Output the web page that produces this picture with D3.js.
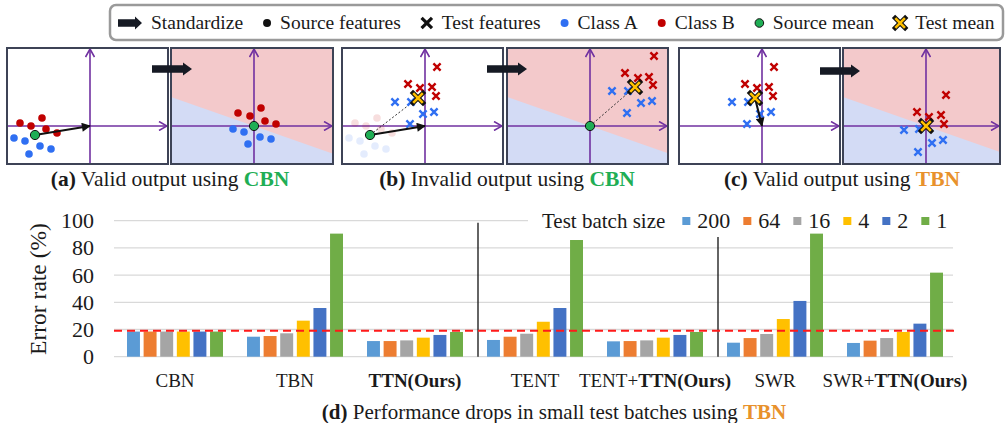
<!DOCTYPE html>
<html>
<head>
<meta charset="utf-8">
<script src="https://cdn.jsdelivr.net/npm/d3@7"></script>
<style>
body { margin: 0; background: #fff; }
svg text { fill: #1a1a1a; }
</style>
</head>
<body>
<div id="chart"></div>
<script>
// ---------- data: feature space panels (axis crossing = 0,0) ----------
const topLegend = ['Standardize', 'Source features', 'Test features', 'Class A', 'Class B', 'Source mean', 'Test mean']
const sourceA = [[-7.6, -1.2], [-6.5, -1.5], [-5.0, -2.0], [-3.9, -2.3], [-6.1, -2.8]]
const sourceB = [[-7.0, 0.3], [-5.9, 0.0], [-4.8, 0.8], [-4.4, -0.3], [-3.3, -0.7]]
const sourceMean = [-5.5, -0.9]
const normSourceA = [[-2.1, -0.3], [-1.0, -0.6], [0.6, -1.1], [1.7, -1.3], [-0.6, -1.8]]
const normSourceB = [[-1.6, 1.3], [-0.4, 1.0], [0.7, 1.8], [1.1, 0.5], [2.2, 0.2]]
const testA = [[-3.0, 2.4], [-1.4, 2.4], [-0.2, 1.2], [0.9, 1.4], [-1.5, 0.2]]
const testB = [[1.2, 5.9], [-1.7, 4.2], [-0.5, 3.8], [0.7, 3.9], [1.1, 3.0]]
const testMean = [-0.7, 2.8]
const cbnTestA = [[2.2, 3.5], [3.8, 3.5], [5.1, 2.3], [6.2, 2.5], [3.7, 1.3]]
const cbnTestB = [[6.4, 7.0], [3.5, 5.3], [4.8, 4.8], [5.9, 4.9], [6.3, 4.1]]
const cbnTestMean = [4.5, 3.9]
const tbnTestA = [[-2.2, -0.4], [-0.7, -0.3], [0.6, -1.7], [1.7, -1.4], [-0.8, -2.6]]
const tbnTestB = [[2.0, 3.1], [-0.9, 1.4], [0.3, 0.9], [1.5, 1.1], [1.8, 0.2]]
const boundarySlope = -0.35
const origin = [0, 0]

// ---------- data: error rates ----------
const methods = ['CBN', 'TBN', 'TTN(Ours)', 'TENT', 'TENT+TTN(Ours)', 'SWR', 'SWR+TTN(Ours)']
const batchSizes = ['200', '64', '16', '4', '2', '1']
const errCBN = [18.5, 18.5, 18.5, 18.5, 18.5, 18.5]
const errTBN = [14.7, 15.2, 17.2, 26.5, 35.8, 90.5]
const errTTN = [11.5, 11.5, 12.0, 14.0, 16.0, 18.2]
const errTENT = [12.3, 14.7, 16.9, 25.7, 35.8, 85.8]
const errTENTTTN = [11.3, 11.5, 12.0, 14.0, 16.0, 18.2]
const errSWR = [10.3, 13.7, 16.7, 27.7, 41.0, 90.5]
const errSWRTTN = [10.1, 11.8, 13.7, 18.2, 24.3, 61.8]
const errors = [errCBN, errTBN, errTTN, errTENT, errTENTTTN, errSWR, errSWRTTN]
const yTicks = [0, 20, 40, 60, 80, 100]
const referenceError = 19

// ---------- styles ----------
const serif = '"Liberation Serif", "Times New Roman", Times, serif'
const purple = '#7030a0', red = '#c00000', blue = '#2f6ff2', green = '#1fae55', yellow = '#ffc000'
const pink = '#f3c9cb', lightBlue = '#d3dbf5', boxStroke = '#3d4356'
const barColors = ['#5b9bd5', '#ed7d31', '#a5a5a5', '#ffc000', '#4472c4', '#70ad47']
const cbnGreen = '#1fae55', tbnOrange = '#e8912c'

const svg = d3.select('#chart').append('svg').attr('width', 1005).attr('height', 423)
    .attr('font-family', serif).style('font-family', serif)
const defs = svg.append('defs')
defs.append('marker').attr('id', 'axisHead').attr('viewBox', '0 0 10 10')
    .attr('refX', 9).attr('refY', 5).attr('markerWidth', 10).attr('markerHeight', 10)
    .attr('markerUnits', 'userSpaceOnUse').attr('orient', 'auto')
    .append('path').attr('d', 'M1,0.5L9,5L1,9.5').attr('fill', 'none')
    .attr('stroke', purple).attr('stroke-width', 1.6)
defs.append('marker').attr('id', 'blackHead').attr('viewBox', '0 0 10 10')
    .attr('refX', 9).attr('refY', 5).attr('markerWidth', 10).attr('markerHeight', 9)
    .attr('markerUnits', 'userSpaceOnUse').attr('orient', 'auto')
    .append('path').attr('d', 'M0,0L10,5L0,10Z').attr('fill', '#111')

// block arrow shape
function blockArrow(len, shaft, head, headLen){
    return 'M0,' + (-shaft/2) + 'H' + (len - headLen) + 'V' + (-head/2) + 'L' + len + ',0L' +
        (len - headLen) + ',' + (head/2) + 'V' + (shaft/2) + 'H0Z'
}
const crossPath = s => 'M' + (-s) + ',' + (-s) + 'L' + s + ',' + s + 'M' + (-s) + ',' + s + 'L' + s + ',' + (-s)

function drawDots(g, pts, color, x, y, opacity){
    g.selectAll(null).data(pts).join('circle')
        .attr('cx', d => x(d[0])).attr('cy', d => y(d[1])).attr('r', 3.8)
        .attr('fill', color).attr('opacity', opacity)
}
function drawCrosses(g, pts, color, x, y){
    g.selectAll(null).data(pts).join('path')
        .attr('transform', d => 'translate(' + x(d[0]) + ',' + y(d[1]) + ')')
        .attr('d', crossPath(3.6)).attr('stroke', color).attr('stroke-width', 2.4).attr('fill', 'none')
}
function drawSourceMean(g, p, x, y){
    g.append('circle').attr('cx', x(p[0])).attr('cy', y(p[1])).attr('r', 4.6)
        .attr('fill', green).attr('stroke', '#111').attr('stroke-width', 1)
}
function drawTestMean(g, p, x, y){
    const t = 'translate(' + x(p[0]) + ',' + y(p[1]) + ')'
    g.append('path').attr('transform', t).attr('d', crossPath(5)).attr('stroke', '#111')
        .attr('stroke-width', 4.6).attr('stroke-linecap', 'square').attr('fill', 'none')
    g.append('path').attr('transform', t).attr('d', crossPath(4.8)).attr('stroke', yellow)
        .attr('stroke-width', 2.6).attr('fill', 'none')
}
function drawLine(g, a, b, x, y, dashed){
    const l = g.append('line').attr('x1', x(a[0])).attr('y1', y(a[1])).attr('x2', x(b[0])).attr('y2', y(b[1]))
    if(dashed){
        l.attr('stroke', '#333').attr('stroke-width', 1).attr('stroke-dasharray', '2,2')
    } else {
        l.attr('stroke', '#111').attr('stroke-width', 2).attr('marker-end', 'url(#blackHead)')
    }
}

// ---------- top panels ----------
const panels = [
    {left: 7, width: 161, dotsA: sourceA, dotsB: sourceB, srcMean: sourceMean, arrow: [sourceMean, origin]},
    {left: 171, width: 162, regions: true, dotsA: normSourceA, dotsB: normSourceB, srcMean: origin},
    {left: 342, width: 161, dotsA: sourceA, dotsB: sourceB, faded: true, crossA: testA, crossB: testB,
        dash: [sourceMean, testMean], arrow: [sourceMean, origin], srcMean: sourceMean, tstMean: testMean},
    {left: 507, width: 161, regions: true, crossA: cbnTestA, crossB: cbnTestB,
        dash: [origin, cbnTestMean], srcMean: origin, tstMean: cbnTestMean},
    {left: 679, width: 161, crossA: testA, crossB: testB, arrow: [testMean, origin], tstMean: testMean},
    {left: 843, width: 157, regions: true, crossA: tbnTestA, crossB: tbnTestB, tstMean: origin}
]

panels.forEach(function(p){
    const g = svg.append('g')
    const x = d3.scaleLinear().domain([-8.3, (p.width - 83) / 10]).range([p.left, p.left + p.width])
    const y = d3.scaleLinear().domain([-3.8, 7.8]).range([164, 48])
    const [x0, x1] = x.domain(), [y0, y1] = y.domain()

    g.append('rect').attr('x', p.left).attr('y', 48).attr('width', p.width).attr('height', 116)
        .attr('fill', p.regions ? pink : '#fff')
    if(p.regions){
        const poly = [[x0, boundarySlope * x0], [x1, boundarySlope * x1], [x1, y0], [x0, y0]]
        g.append('path').attr('d', d3.line().x(d => x(d[0])).y(d => y(d[1]))(poly) + 'Z').attr('fill', lightBlue)
    }
    // axes
    g.append('line').attr('x1', x(x0)).attr('x2', x(x1) - 1).attr('y1', y(0)).attr('y2', y(0))
        .attr('stroke', purple).attr('stroke-width', 1.6).attr('marker-end', 'url(#axisHead)')
    g.append('line').attr('x1', x(0)).attr('x2', x(0)).attr('y1', y(y0)).attr('y2', y(y1) + 1)
        .attr('stroke', purple).attr('stroke-width', 1.6).attr('marker-end', 'url(#axisHead)')

    if(p.dotsA){
        drawDots(g, p.dotsA, blue, x, y, p.faded ? 0.13 : 1)
        drawDots(g, p.dotsB, red, x, y, p.faded ? 0.13 : 1)
    }
    if(p.dash) drawLine(g, p.dash[0], p.dash[1], x, y, true)
    if(p.crossA){
        drawCrosses(g, p.crossA, blue, x, y)
        drawCrosses(g, p.crossB, red, x, y)
    }
    if(p.arrow) drawLine(g, p.arrow[0], p.arrow[1], x, y, false)
    if(p.srcMean) drawSourceMean(g, p.srcMean, x, y)
    if(p.tstMean) drawTestMean(g, p.tstMean, x, y)

    g.append('rect').attr('x', p.left).attr('y', 48).attr('width', p.width).attr('height', 116)
        .attr('fill', 'none').attr('stroke', boxStroke).attr('stroke-width', 2)
})

// big standardize arrows between panel pairs
;[152, 487, 820].forEach(function(ax, i){
    svg.append('path').attr('transform', 'translate(' + ax + ',' + (i == 2 ? 71 : 69) + ')')
        .attr('d', blockArrow(40, 7.5, 13, 9)).attr('fill', '#161a24')
})

// panel captions
const captions = [
    {label: '(a)', text: ' Valid output using ', method: 'CBN', color: cbnGreen, cx: 170},
    {label: '(b)', text: ' Invalid output using ', method: 'CBN', color: cbnGreen, cx: 507},
    {label: '(c)', text: ' Valid output using ', method: 'TBN', color: tbnOrange, cx: 842}
]
captions.forEach(function(c){
    const t = svg.append('text').attr('x', c.cx).attr('y', 186).attr('text-anchor', 'middle').style('font-size', '21.5px')
    t.append('tspan').attr('font-weight', 'bold').text(c.label)
    t.append('tspan').text(c.text)
    t.append('tspan').attr('font-weight', 'bold').style('fill', c.color).text(c.method)
})

// top legend
const legendG = svg.append('g')
legendG.append('rect').attr('x', 110).attr('y', 5).attr('width', 893).attr('height', 35).attr('rx', 6)
    .attr('fill', '#fff').attr('stroke', '#9a9a9a').attr('stroke-width', 2.5)
const iconW = [24, 8, 12, 8, 8, 9, 12]
let cursor = 118
topLegend.forEach(function(name, i){
    const cy = 23, ig = legendG.append('g').attr('transform', 'translate(' + cursor + ',' + cy + ')')
    if(i == 0) ig.append('path').attr('d', blockArrow(24, 7.5, 13, 7)).attr('fill', '#161a24')
    if(i == 1) ig.append('circle').attr('cx', 4).attr('r', 4).attr('fill', '#111')
    if(i == 2) ig.append('path').attr('transform', 'translate(6,0)').attr('d', crossPath(5.2))
        .attr('stroke', '#111').attr('stroke-width', 3.2).attr('fill', 'none')
    if(i == 3) ig.append('circle').attr('cx', 4).attr('r', 4).attr('fill', blue)
    if(i == 4) ig.append('circle').attr('cx', 4).attr('r', 4).attr('fill', red)
    if(i == 5) ig.append('circle').attr('cx', 4.5).attr('r', 4.3).attr('fill', green).attr('stroke', '#111').attr('stroke-width', 1)
    if(i == 6) drawTestMean(ig, [6, 0], d => d, d => d)
    const t = legendG.append('text').attr('x', cursor + iconW[i] + 9).attr('y', cy).attr('dy', '0.33em')
        .style('font-size', '19.5px').text(name)
    cursor += iconW[i] + 9 + t.node().getComputedTextLength() + 20
})

// ---------- bar chart ----------
const y = d3.scaleLinear().domain([0, 100]).range([356.7, 220.7])
const x0 = d3.scaleBand().domain(methods).range([115, 955])
const x1 = d3.scaleBand().domain(batchSizes).range([12, x0.bandwidth() - 12]).paddingInner(0.22)

const chart = svg.append('g')
chart.selectAll('.grid').data(yTicks).join('line').attr('class', 'grid')
    .attr('x1', 114).attr('x2', 953).attr('y1', d => y(d)).attr('y2', d => y(d))
    .attr('stroke', '#d9d9d9').attr('stroke-width', 1.3)
chart.selectAll('.tick').data(yTicks).join('text').attr('class', 'tick')
    .attr('x', 94).attr('y', d => y(d)).attr('dy', '0.34em').attr('text-anchor', 'end')
    .style('font-size', '22px').text(d => d)
chart.append('text').attr('transform', 'translate(46,289) rotate(-90)').attr('text-anchor', 'middle')
    .style('font-size', '23.5px').text('Error rate (%)')

methods.forEach(function(m, mi){
    chart.append('g').selectAll('rect').data(errors[mi]).join('rect')
        .attr('x', (d, i) => x0(m) + x1(batchSizes[i])).attr('width', x1.bandwidth())
        .attr('y', d => y(d)).attr('height', d => y(0) - y(d))
        .attr('fill', (d, i) => barColors[i])
    // category label, TTN(Ours) part in bold
    const t = chart.append('text').attr('x', x0(m) + x0.bandwidth() / 2).attr('y', 387)
        .attr('text-anchor', 'middle').style('font-size', '19px')
    const k = m.indexOf('TTN(Ours)')
    if(k > 0) t.append('tspan').text(m.slice(0, k))
    if(k >= 0) t.append('tspan').attr('font-weight', 'bold').text('TTN(Ours)')
    else t.text(m)
})

// separators between method families
chart.append('line').attr('x1', x0('TENT') + 3).attr('x2', x0('TENT') + 3).attr('y1', y(98.5)).attr('y2', y(0))
    .attr('stroke', '#111').attr('stroke-width', 1.3)
chart.append('line').attr('x1', x0('SWR') + 3).attr('x2', x0('SWR') + 3).attr('y1', y(88)).attr('y2', y(0))
    .attr('stroke', '#111').attr('stroke-width', 1.3)

// reference error line
chart.append('line').attr('x1', 114).attr('x2', 958).attr('y1', y(referenceError)).attr('y2', y(referenceError))
    .attr('stroke', '#ff1a1a').attr('stroke-width', 2).attr('stroke-dasharray', '8,5')

// bar legend
const bl = chart.append('g')
bl.append('rect').attr('x', 528).attr('y', 209).attr('width', 428).attr('height', 24).attr('fill', '#fff')
let bx = 542
const lt = bl.append('text').attr('x', bx).attr('y', 221).attr('dy', '0.34em').style('font-size', '21px').text('Test batch size')
bx += lt.node().getComputedTextLength() + 17
batchSizes.forEach(function(b, i){
    bl.append('rect').attr('x', bx).attr('y', 217).attr('width', 8).attr('height', 8).attr('fill', barColors[i])
    const t = bl.append('text').attr('x', bx + 15).attr('y', 221).attr('dy', '0.34em').style('font-size', '22px').text(b)
    bx += 15 + t.node().getComputedTextLength() + 13
})

// bottom caption
const cap = svg.append('text').attr('x', 554).attr('y', 419).attr('text-anchor', 'middle').style('font-size', '21px')
cap.append('tspan').attr('font-weight', 'bold').text('(d)')
cap.append('tspan').text(' Performance drops in small test batches using ')
cap.append('tspan').attr('font-weight', 'bold').style('fill', tbnOrange).text('TBN')
</script>
</body>
</html>
